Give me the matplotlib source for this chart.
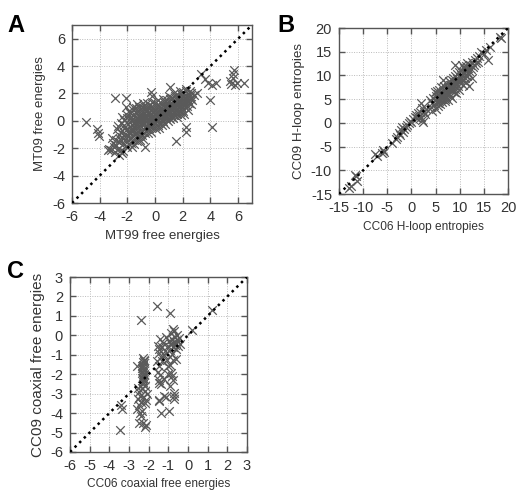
import numpy as np
import matplotlib
matplotlib.use("Agg")
import matplotlib.pyplot as plt

plt.rcParams['font.family'] = ['Liberation Sans', 'DejaVu Sans']
plt.rcParams['axes.unicode_minus'] = False

# panel A: MT99 vs MT09 free energies
a_pts = [
    (-3.05,-1.62),(-2.97,-1.88),(-3.10,-1.25),(-2.82,-1.41),(-2.78,-0.62),(-2.85,-1.79),(-2.71,-2.02),
    (-2.63,-1.03),(-2.58,-1.52),(-2.66,-0.38),(-2.55,-2.21),(-2.44,-0.81),(-2.38,-1.19),(-2.47,-0.18),
    (-2.35,-1.72),(-2.42,-2.36),(-2.24,-0.52),(-2.18,-0.97),(-2.27,-0.31),(-2.15,-1.43),(-2.21,0.04),
    (-2.12,-1.86),(-2.03,-0.63),(-1.97,-0.21),(-2.06,0.22),(-1.94,-1.08),(-1.99,-1.52),(-2.01,0.41),
    (-1.83,-0.42),(-1.77,0.03),(-1.86,-0.79),(-1.74,0.31),(-1.81,-1.23),(-1.78,0.58),(-1.72,-1.61),
    (-1.63,-0.28),(-1.57,0.12),(-1.66,-0.71),(-1.54,0.49),(-1.61,-1.02),(-1.58,0.82),(-1.52,-1.38),
    (-1.43,-0.19),(-1.38,0.21),(-1.46,-0.62),(-1.35,0.63),(-1.41,-0.91),(-1.37,0.93),(-1.32,-1.19),
    (-1.44,0.02),(-1.23,-0.08),(-1.18,0.32),(-1.26,-0.51),(-1.15,0.71),(-1.21,-0.83),(-1.17,1.02),
    (-1.12,-1.08),(-1.24,0.12),(-1.03,0.01),(-0.98,0.42),(-1.06,-0.39),(-0.95,0.81),(-1.01,-0.72),
    (-0.97,1.03),(-0.92,-1.01),(-1.04,0.22),(-0.99,-0.18),(-0.83,0.12),(-0.78,0.51),(-0.86,-0.29),
    (-0.75,0.88),(-0.81,-0.61),(-0.77,1.09),(-0.72,-0.92),(-0.84,-0.08),(-0.63,0.02),(-0.58,0.41),
    (-0.66,-0.38),(-0.55,0.79),(-0.61,-0.62),(-0.57,1.01),(-0.52,-0.21),(-0.64,0.21),(-0.43,0.11),
    (-0.38,0.52),(-0.46,-0.31),(-0.35,0.91),(-0.41,-0.52),(-0.37,1.18),(-0.32,0.29),(-0.44,-0.09),
    (-0.23,0.19),(-0.18,0.61),(-0.26,-0.22),(-0.15,0.98),(-0.21,-0.48),(-0.17,0.39),(-0.12,0.01),
    (-0.03,0.31),(0.02,0.72),(-0.06,-0.11),(0.05,1.09),(-0.01,-0.41),(0.03,0.52),(0.08,0.09),(0.01,1.31),
    (0.17,0.41),(0.22,0.82),(0.14,0.01),(0.25,1.19),(0.19,-0.29),(0.23,0.61),(0.37,0.52),(0.42,0.91),
    (0.34,0.12),(0.45,1.28),(0.39,-0.18),(0.43,0.71),(0.57,0.61),(0.62,1.02),(0.54,0.21),(0.65,1.39),
    (0.59,0.02),(0.63,0.79),(0.77,0.69),(0.82,1.11),(0.74,0.31),(0.85,1.49),(0.79,0.12),(0.83,0.91),
    (0.97,0.81),(1.02,1.19),(0.94,0.41),(1.05,1.58),(0.99,0.22),(1.03,1.01),(1.17,0.92),(1.22,1.31),
    (1.14,0.52),(1.25,1.69),(1.19,0.31),(1.23,1.09),(1.37,1.01),(1.42,1.42),(1.34,0.61),(1.45,1.79),
    (1.39,0.42),(1.57,1.12),(1.62,1.51),(1.54,0.71),(1.65,1.88),(1.59,0.52),(1.63,1.29),(1.77,1.19),
    (1.82,1.62),(1.74,0.81),(1.85,1.98),(1.79,0.61),(1.83,1.41),(1.97,1.31),(2.02,1.71),(1.94,0.92),
    (2.05,2.08),(1.99,0.72),(2.03,1.49),(2.17,1.42),(2.22,1.81),(2.14,1.02),(2.25,2.19),(2.19,1.21),
    (2.37,1.51),(2.42,1.92),(2.34,1.12),(2.45,1.31),(2.57,1.62),(2.62,1.21),
    # lower and upper edges of the cloud
    (-2.9,-2.3),(-2.6,-2.5),(-2.3,-2.2),(-2.0,-1.9),(-1.7,-1.9),(-1.5,-1.7),(-1.3,-1.5),(-1.1,-1.4),
    (-0.9,-1.3),(-0.5,-0.9),(-0.3,-0.8),(0.1,-0.6),(0.3,-0.5),(0.5,-0.3),(0.7,-0.2),(0.9,0.0),
    (1.1,0.1),(1.3,0.2),(1.6,0.3),(1.9,0.4),(2.1,0.5),(2.4,0.8),
    (-2.4,0.3),(-1.9,0.7),(-1.6,1.0),(-1.3,1.2),(-0.9,1.3),(-0.6,1.3),(-0.2,1.4),(0.2,1.5),
    (0.6,1.6),(1.0,1.8),(1.4,2.0),(1.8,2.2),(2.2,2.3),(2.5,2.2),
    (-2.5,-1.3),(-2.2,-1.2),(-1.9,-0.9),(-1.7,-0.6),(-1.5,-0.4),(-1.3,-0.3),(-1.1,0.5),(-0.9,-0.1),
    (-0.7,0.3),(-0.5,0.6),(-0.3,-0.4),(-0.1,0.8),(0.1,0.2),(0.3,0.3),(0.5,0.5),(0.7,0.4),(0.9,0.6),
    (1.1,0.7),(1.3,0.8),(1.5,1.2),(1.7,1.0),(1.9,1.1),(2.1,1.3),(2.3,1.6),(2.5,1.8),(2.7,1.5),(2.8,1.9),
    # outliers
    (-5.0,-0.1),(-4.2,-0.6),(-4.1,-0.9),(-4.05,-1.1),(-2.9,1.65),(-2.1,1.7),(-2.1,1.0),(-3.4,-2.1),
    (-3.2,-2.15),(-3.35,-2.05),(-0.7,-1.9),(1.5,-1.45),(2.2,-0.8),(2.2,-0.45),(4.0,1.5),(4.1,-0.45),
    (3.3,3.4),(3.6,3.05),(3.8,2.75),(4.1,2.65),(4.4,2.8),(5.4,2.9),(5.6,3.4),(5.7,3.7),(5.6,3.1),
    (5.8,2.6),(5.9,2.8),(6.4,2.75),(5.5,2.7),(1.1,2.5),(-0.3,2.1),(-0.25,1.85),(3.0,2.0),(2.6,2.05),
]

# panel B: CC06 vs CC09 hairpin-loop entropies
b_pts = [
    (-12.9,-13.8),(-12.6,-13.3),(-11.4,-11.3),(-11.2,-12.2),(-11.7,-10.9),(-7.6,-6.6),(-7.2,-6.9),
    (-6.0,-6.3),(-5.7,-6.1),(-5.9,-5.8),(-4.1,-4.2),(-3.3,-3.4),(-3.0,-2.9),(-2.6,-2.2),(-2.3,-2.6),
    (-2.1,-1.5),(-2.0,-0.9),(-1.8,-1.9),(-1.5,-1.2),(-1.2,-0.8),(-0.9,-0.4),(-0.6,-0.1),(-0.3,0.4),
    (0.0,0.2),(0.4,0.9),(0.7,1.2),(1.0,1.6),(1.2,1.0),(1.4,2.0),(1.6,1.5),(1.8,2.3),(2.0,1.2),
    (2.1,0.6),(2.3,0.2),(1.9,4.1),(2.2,3.2),(2.5,2.4),(2.8,1.8),(3.0,3.0),
    (3.8,4.8),(4.0,3.3),(4.2,2.6),(4.3,4.2),(4.5,5.3),(4.6,3.8),(4.8,6.5),(4.9,4.9),(5.0,2.9),
    (5.1,5.7),(5.2,4.4),(5.3,6.8),(5.4,3.6),(5.5,5.2),(5.6,6.1),(5.7,4.6),(5.8,7.0),(5.9,5.5),
    (6.0,4.0),(6.1,6.4),(6.2,7.5),(6.3,5.0),(6.4,4.3),(6.5,6.7),(6.6,9.0),(6.7,5.8),(6.8,7.8),
    (6.9,4.7),(7.0,6.2),(7.1,7.1),(7.2,5.4),(7.3,8.2),(7.4,6.6),(7.5,4.9),(7.6,7.5),(7.7,8.8),
    (7.8,6.0),(7.9,7.9),(8.0,5.6),(8.1,8.4),(8.2,6.9),(8.3,9.1),(8.4,7.4),(8.5,5.2),(8.6,8.0),
    (8.7,9.5),(8.8,6.5),(8.9,8.7),(9.0,12.2),(9.0,7.2),(9.1,9.9),(9.2,8.1),(9.3,6.3),(9.4,9.2),
    (9.5,10.4),(9.6,7.7),(9.7,8.9),(9.8,10.8),(9.9,7.0),(10.0,9.6),(10.1,11.2),(10.2,8.5),(10.3,10.0),
    (10.4,12.3),(10.5,9.1),(10.7,8.0),(10.8,10.7),(10.9,11.6),(11.0,9.4),(11.1,10.2),(11.2,12.0),
    (11.3,8.7),(11.4,11.0),(11.5,9.8),(11.6,12.6),(11.7,10.5),(11.8,11.5),(11.9,7.7),(12.0,10.9),
    (12.2,12.2),(12.3,11.3),(12.5,9.5),(12.6,12.8),(12.8,11.8),(13.0,12.2),(13.2,13.3),(13.4,12.6),
    (13.6,13.7),(13.8,12.9),(14.0,14.2),(14.5,15.0),(15.0,14.6),(15.5,15.3),(15.8,13.3),(16.3,16.1),
    (18.3,18.2),(18.6,17.8),
    (6.2,6.0),(6.8,6.9),(7.2,7.4),(7.8,7.2),(8.2,8.0),(8.8,8.6),(9.4,9.5),(9.8,9.2),(10.4,10.1),
    (6.5,5.5),(7.5,6.0),(8.5,7.0),(9.5,8.2),(5.5,4.2),(6.0,5.1),(7.0,5.0),(10.6,10.6),(11.3,11.4),
]

# panel C: CC06 vs CC09 coaxial stacking free energies
c_pts = [
    (-2.30,-1.15),(-2.26,-1.25),(-2.31,-1.35),(-2.25,-1.42),(-2.29,-1.50),(-2.32,-1.58),(-2.27,-1.65),
    (-2.24,-1.72),(-2.30,-1.80),(-2.28,-1.88),(-2.33,-1.95),(-2.26,-2.02),(-2.29,-2.10),(-2.31,-2.18),
    (-2.25,-2.25),(-2.28,-2.32),(-2.30,-2.42),(-2.27,-2.50),(-2.23,-1.30),(-2.34,-1.70),(-2.22,-2.00),
    (-2.35,-2.20),
    (-2.4,0.8),(-1.6,1.5),(-0.9,1.15),(1.2,1.3),(0.2,0.3),
    (-1.55,-0.55),(-1.5,-0.7),(-1.45,-0.9),(-1.4,-0.2),(-1.35,-1.1),(-1.3,-0.6),(-1.25,-0.4),
    (-1.2,-1.0),(-1.15,-0.8),(-1.1,-0.1),(-1.05,-1.25),(-1.0,-0.55),(-0.95,-0.3),(-0.9,-0.75),
    (-0.88,0.1),(-0.85,-0.45),(-0.82,-0.95),(-0.8,-0.2),(-0.78,0.35),(-0.75,-0.6),(-0.72,-0.35),
    (-0.7,0.2),(-0.68,-0.5),(-0.65,-0.1),(-0.62,-0.7),(-0.6,-0.4),(-0.58,0.0),(-0.55,-0.25),
    (-0.5,-0.55),(-0.45,-0.15),(-0.4,-0.45),(-0.9,-1.5),(-0.75,-1.25),(-1.6,-1.3),(-1.0,-1.6),
    (-1.3,-1.3),(-1.45,-1.6),(-0.6,-1.2),(-1.55,-1.9),(-0.85,-1.95),
    (-1.5,-2.3),(-1.4,-2.05),(-1.35,-2.5),(-1.45,-2.45),(-1.0,-2.0),(-0.8,-2.1),(-0.75,-2.3),
    (-0.9,-2.6),(-1.2,-3.1),(-1.1,-3.15),(-1.45,-3.35),(-1.5,-3.4),(-0.7,-2.95),(-0.72,-3.1),
    (-0.7,-3.3),(-1.35,-4.0),(-0.95,-3.9),(-1.2,-2.25),
    (-3.4,-3.6),(-3.35,-3.8),(-3.45,-4.85),(-2.6,-1.6),(-2.55,-2.7),(-2.5,-2.9),(-2.45,-3.1),
    (-2.55,-3.3),(-2.4,-3.45),(-2.5,-3.6),(-2.2,-3.5),(-2.15,-3.35),(-2.45,-4.0),(-2.4,-4.15),
    (-2.5,-4.5),(-2.3,-4.5),(-2.2,-4.7),(-2.15,-4.6),(-2.2,-2.85),(-2.1,-3.0),(-2.3,-3.15),
    (-2.35,-2.7),(-2.2,-2.6),(-2.6,-3.8),(-2.35,-3.9),
]

# letter, data, axes rect, limits, ticks, xlabel, ylabel, letter pos (px), xlabel size, ylabel size
panels = [
    ('A', a_pts, [0.1395, 0.5857, 0.3488, 0.3633], (-6, 7), np.arange(-6, 7, 2),
     'MT99 free energies', 'MT09 free energies', (7, 32), 9.5, 9.5),
    ('B', b_pts, [0.657, 0.604, 0.3275, 0.3388], (-15, 20), np.arange(-15, 21, 5),
     'CC06 H-loop entropies', 'CC09 H-loop entropies', (277, 32), 8.6, 9.6),
    ('C', c_pts, [0.1357, 0.0776, 0.343, 0.357], (-6, 3), np.arange(-6, 4, 1),
     'CC06 coaxial free energies', 'CC09 coaxial free energies', (7, 278), 8.6, 11.0),
]

fig = plt.figure(figsize=(5.16, 4.90), dpi=100)

for letter, pts, rect, lim, ticks, xl, yl, lpos, xs, ys in panels:
    ax = fig.add_axes(rect)
    x, y = np.array(pts).T
    ax.scatter(x, y, marker='x', s=38, c='#5a5a5a', linewidths=0.9, zorder=3)
    ax.plot(lim, lim, color='black', linestyle=(0, (1, 1.6)), linewidth=1.8, zorder=4)
    ax.set_xlim(lim)
    ax.set_ylim(lim)
    ax.set_xticks(ticks)
    ax.set_yticks(ticks)
    ax.grid(True, color='#bbbbbb', linestyle=(0, (1, 1.5)), linewidth=0.7, zorder=0)
    ax.tick_params(direction='in', length=4, width=1, color='#555555', top=True, right=True,
                   labelsize=10.5, labelcolor='#333333', pad=5)
    for s in ax.spines.values():
        s.set_color('#555555')
        s.set_linewidth(1.0)
    ax.set_xlabel(xl, fontsize=xs, color='#333333', labelpad=4)
    ax.set_ylabel(yl, fontsize=ys, color='#333333', labelpad=4)
    fig.text(lpos[0] / 516, 1 - lpos[1] / 490, letter, fontsize=17, fontweight='bold',
             ha='left', va='baseline')

fig.savefig('out.png', dpi=100)
